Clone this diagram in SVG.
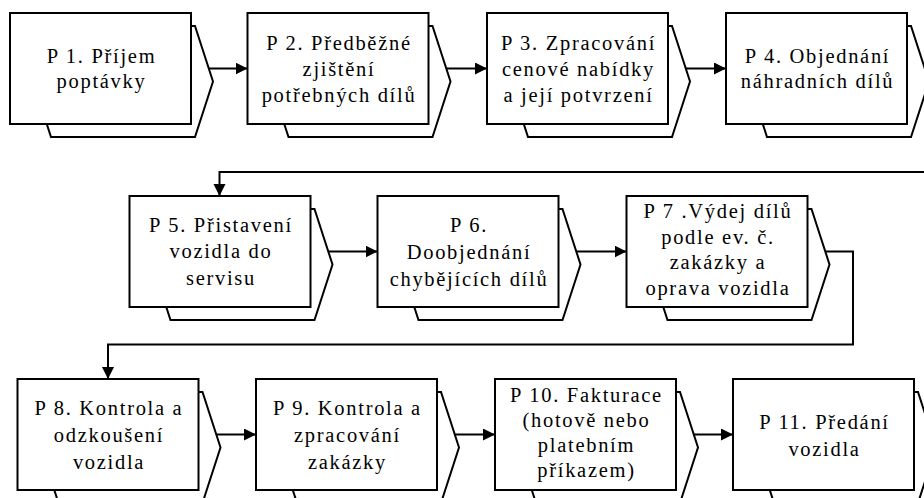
<svg xmlns="http://www.w3.org/2000/svg" xmlns:xlink="http://www.w3.org/1999/xlink" width="924" height="498" viewBox="0 0 924 498">
  <style>
    .box { fill: #ffffff; stroke: #000000; stroke-width: 2; }
    .back { fill: #ffffff; stroke: #000000; stroke-width: 2; stroke-linejoin: miter; }
    .lbl { font-family: "Liberation Serif", "Times New Roman", "DejaVu Serif", serif; font-size: 20.5px; letter-spacing: 1.7px; text-anchor: middle; fill: #000000; }
    .wire { fill: none; stroke: #000000; stroke-width: 2; }
  </style>
  <defs>
    <!-- shadow chevron drawn behind every process box (box is 181 x 111) -->
    <polygon id="back" class="back" points="41,13 185,13 203,68.5 185,124 41,124 23,68.5"/>
    <marker id="arrow" markerUnits="userSpaceOnUse" markerWidth="14" markerHeight="14" refX="12" refY="6" orient="auto">
      <path d="M0,0 L12,6 L0,12 Z" fill="#000000"/>
    </marker>
  </defs>
  <rect x="0" y="0" width="924" height="498" fill="#ffffff"/>

  <!-- connectors -->
  <g id="connectors">
    <path class="wire" d="M191,68.5 H247.5" marker-end="url(#arrow)"/>
    <path class="wire" d="M429.5,68.5 H487" marker-end="url(#arrow)"/>
    <path class="wire" d="M668,68.5 H726" marker-end="url(#arrow)"/>
    <path class="wire" d="M907,68.5 H940 V172 H219.5 V196" marker-end="url(#arrow)"/>
    <path class="wire" d="M310.5,251.5 H377.5" marker-end="url(#arrow)"/>
    <path class="wire" d="M558.5,251.5 H626.5" marker-end="url(#arrow)"/>
    <path class="wire" d="M807.5,251.5 H853 V344.5 H108 V379" marker-end="url(#arrow)"/>
    <path class="wire" d="M198.5,434.5 H256" marker-end="url(#arrow)"/>
    <path class="wire" d="M437,434.5 H495" marker-end="url(#arrow)"/>
    <path class="wire" d="M676,434.5 H733" marker-end="url(#arrow)"/>
  </g>

  <!-- row 1 -->
  <g id="p1" transform="translate(10,13)">
    <use href="#back"/>
    <rect class="box" x="0" y="0" width="181" height="111"/>
    <text class="lbl" x="91.5" y="50">P 1. Příjem</text>
    <text class="lbl" x="91.5" y="75">poptávky</text>
  </g>
  <g id="p2" transform="translate(247.5,13)">
    <use href="#back"/>
    <rect class="box" x="0" y="0" width="181" height="111"/>
    <text class="lbl" x="91.5" y="37">P 2. Předběžné</text>
    <text class="lbl" x="91.5" y="63">zjištění</text>
    <text class="lbl" x="91.5" y="88.5">potřebných dílů</text>
  </g>
  <g id="p3" transform="translate(487,13)">
    <use href="#back"/>
    <rect class="box" x="0" y="0" width="181" height="111"/>
    <text class="lbl" x="91.5" y="37">P 3. Zpracování</text>
    <text class="lbl" x="91.5" y="63">cenové nabídky</text>
    <text class="lbl" x="91.5" y="88.5">a její potvrzení</text>
  </g>
  <g id="p4" transform="translate(726,13)">
    <use href="#back"/>
    <rect class="box" x="0" y="0" width="181" height="111"/>
    <text class="lbl" x="91.5" y="50">P 4. Objednání</text>
    <text class="lbl" x="91.5" y="75">náhradních dílů</text>
  </g>

  <!-- row 2 -->
  <g id="p5" transform="translate(129.5,196)">
    <use href="#back"/>
    <rect class="box" x="0" y="0" width="181" height="111"/>
    <text class="lbl" x="91.5" y="36">P 5. Přistavení</text>
    <text class="lbl" x="91.5" y="62">vozidla do</text>
    <text class="lbl" x="91.5" y="89">servisu</text>
  </g>
  <g id="p6" transform="translate(377.5,196)">
    <use href="#back"/>
    <rect class="box" x="0" y="0" width="181" height="111"/>
    <text class="lbl" x="91.5" y="36">P 6.</text>
    <text class="lbl" x="91.5" y="63">Doobjednání</text>
    <text class="lbl" x="91.5" y="90">chybějících dílů</text>
  </g>
  <g id="p7" transform="translate(626.5,196)">
    <use href="#back"/>
    <rect class="box" x="0" y="0" width="181" height="111"/>
    <text class="lbl" x="91.5" y="22">P 7 .Výdej dílů</text>
    <text class="lbl" x="91.5" y="48">podle ev. č.</text>
    <text class="lbl" x="91.5" y="73">zakázky a</text>
    <text class="lbl" x="91.5" y="99">oprava vozidla</text>
  </g>

  <!-- row 3 -->
  <g id="p8" transform="translate(17.5,379)">
    <use href="#back"/>
    <rect class="box" x="0" y="0" width="181" height="111"/>
    <text class="lbl" x="91.5" y="36">P 8. Kontrola a</text>
    <text class="lbl" x="91.5" y="63">odzkoušení</text>
    <text class="lbl" x="91.5" y="89.5">vozidla</text>
  </g>
  <g id="p9" transform="translate(256,379)">
    <use href="#back"/>
    <rect class="box" x="0" y="0" width="181" height="111"/>
    <text class="lbl" x="91.5" y="36">P 9. Kontrola a</text>
    <text class="lbl" x="91.5" y="63">zpracování</text>
    <text class="lbl" x="91.5" y="90">zakázky</text>
  </g>
  <g id="p10" transform="translate(495,379)">
    <use href="#back"/>
    <rect class="box" x="0" y="0" width="181" height="111"/>
    <text class="lbl" x="91.5" y="23">P 10. Fakturace</text>
    <text class="lbl" x="91.5" y="48">(hotově nebo</text>
    <text class="lbl" x="91.5" y="73">platebním</text>
    <text class="lbl" x="91.5" y="98">příkazem)</text>
  </g>
  <g id="p11" transform="translate(733,379)">
    <use href="#back"/>
    <rect class="box" x="0" y="0" width="181" height="111"/>
    <text class="lbl" x="91.5" y="50">P 11. Předání</text>
    <text class="lbl" x="91.5" y="77">vozidla</text>
  </g>
</svg>
